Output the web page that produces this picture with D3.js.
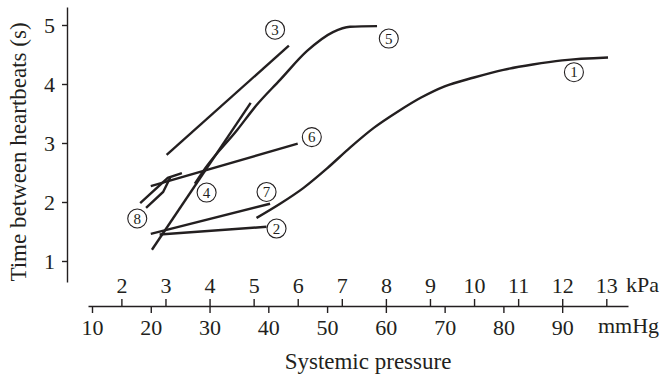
<!DOCTYPE html>
<html>
<head>
<meta charset="utf-8">
<script src="https://cdn.jsdelivr.net/npm/d3@7"></script>
<style>
  body { margin: 0; background: #fff; }
  svg { display: block; }
  text { font-family: "Liberation Serif", "Times New Roman", serif; fill: #231f20; }
  .axis path, .axis line { stroke: #231f20; stroke-width: 1.4; }
  .axis text { font-size: 22px; }
  .curve { fill: none; stroke: #231f20; stroke-width: 2.4; stroke-linecap: butt; }
</style>
</head>
<body>
<div class="container"></div>
<script>
// values are [mmHg, seconds]
const curve1 = [[38,1.73],[42,1.97],[46,2.24],[50,2.57],[54,2.93],[58,3.26],[62,3.53],[66,3.77],[70,3.96],[75,4.11],[80,4.24],[85,4.33],[90,4.40],[97.8,4.45]]
const curve2 = [[21.5,1.45],[39.7,1.58]]
const curve3 = [[22.7,2.80],[43.5,4.65]]
const curve4 = [[20.2,1.19],[37.0,3.68]]
const curve5 = [[27.5,2.31],[29.4,2.59],[34.7,3.22],[37.9,3.63],[42.0,4.07],[46.6,4.56],[51.0,4.88],[53.9,4.97],[58.5,4.98]]
const curve6 = [[20.0,2.27],[45.0,2.99]]
const curve7 = [[20.0,1.46],[40.3,1.97]]
const curve8a = [[18.2,1.98],[22.9,2.41],[25.3,2.49]]
const curve8b = [[19.2,1.90],[22.1,2.17],[23.3,2.41]]

const labelNames = ["1","2","3","4","5","6","7","8"]
const labelPos = [[92.0,4.20],[41.4,1.55],[41.15,4.92],[29.5,2.16],[60.5,4.77],[47.4,3.10],[39.7,2.17],[17.7,1.72]]

const mmHgTicks = [10,20,30,40,50,60,70,80,90]
const kPaTicks = [2,3,4,5,6,7,8,9,10,11,12,13]
const timeTicks = [1,2,3,4,5]
const kPaToMmHg = 7.50062

const svg = d3.select(".container")
              .append("svg")
              .attr("width", 666)
              .attr("height", 378)

const x = d3.scaleLinear().domain([9.32, 101.2]).range([88, 628])
const xk = d3.scaleLinear().domain([9.32 / kPaToMmHg, 101.2 / kPaToMmHg]).range([88, 628])
const y = d3.scaleLinear().domain([0.644, 5.305]).range([282, 7])

const axisY = 306

svg.append("g")
   .attr("class", "axis")
   .attr("transform", "translate(67,0)")
   .call(d3.axisLeft(y).tickValues(timeTicks).tickSize(5).tickSizeOuter(0).tickPadding(7).tickFormat(d3.format("d")))

svg.append("g")
   .attr("class", "axis")
   .attr("transform", `translate(0,${axisY})`)
   .call(d3.axisBottom(x).tickValues(mmHgTicks).tickSize(7).tickSizeOuter(0).tickPadding(6).tickFormat(d3.format("d")))

svg.append("g")
   .attr("class", "axis kpa")
   .attr("transform", `translate(0,${axisY})`)
   .call(d3.axisTop(xk).tickValues(kPaTicks).tickSize(7).tickSizeOuter(0).tickPadding(6).tickFormat(d3.format("d")))
   .call(g => g.select(".domain").remove())

svg.selectAll(".axis text").attr("fill", "#231f20")

svg.append("text")
   .attr("x", 626)
   .attr("y", 292)
   .style("font-size", "22px")
   .text("kPa")

svg.append("text")
   .attr("x", 598)
   .attr("y", 333)
   .style("font-size", "22px")
   .text("mmHg")

svg.append("text")
   .attr("x", 368)
   .attr("y", 369)
   .attr("text-anchor", "middle")
   .style("font-size", "23px")
   .text("Systemic pressure")

svg.append("text")
   .attr("transform", "translate(26,152) rotate(-90)")
   .attr("text-anchor", "middle")
   .style("font-size", "23px")
   .text("Time between heartbeats (s)")

const smooth = d3.line()
                 .x(d => x(d[0]))
                 .y(d => y(d[1]))
                 .curve(d3.curveMonotoneX)

const straight = d3.line()
                   .x(d => x(d[0]))
                   .y(d => y(d[1]))

const curves = [
    [curve1, smooth], [curve2, straight], [curve3, straight], [curve4, straight],
    [curve5, smooth], [curve6, straight], [curve7, straight], [curve8a, straight], [curve8b, straight]
]

svg.selectAll(".curve")
   .data(curves)
   .enter()
   .append("path")
   .attr("class", "curve")
   .attr("d", d => d[1](d[0]))

const labels = svg.selectAll(".lbl")
                  .data(labelNames)
                  .enter()
                  .append("g")
                  .attr("class", "lbl")
                  .attr("transform", (d, i) => `translate(${x(labelPos[i][0])},${y(labelPos[i][1])})`)

labels.append("circle")
      .attr("r", 9.5)
      .attr("fill", "#fff")
      .attr("stroke", "#231f20")
      .attr("stroke-width", 1.1)

labels.append("text")
      .attr("text-anchor", "middle")
      .attr("dy", "0.35em")
      .style("font-size", "15px")
      .text(d => d)
</script>
</body>
</html>
